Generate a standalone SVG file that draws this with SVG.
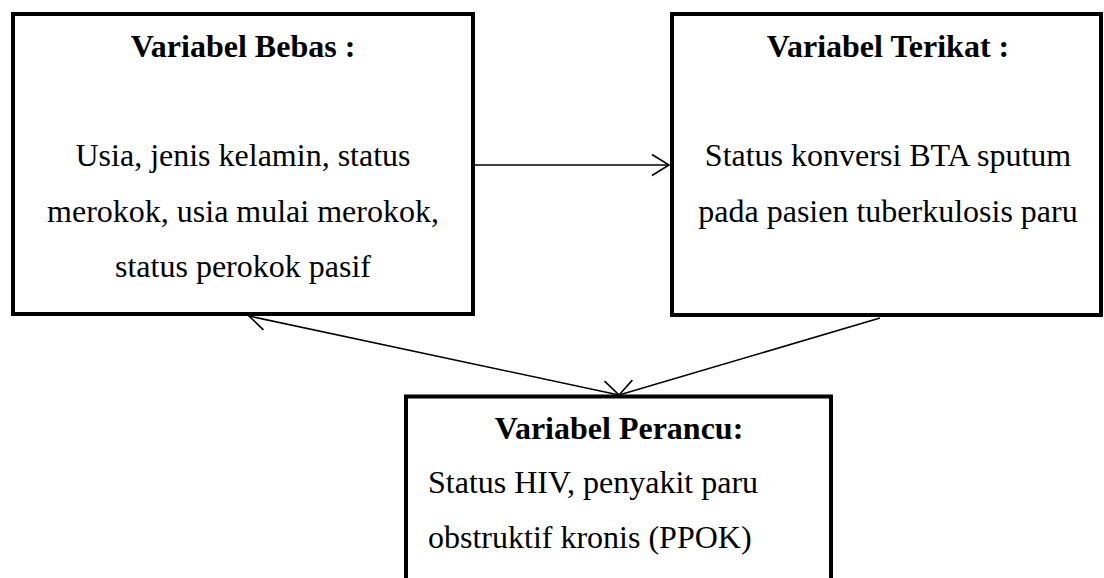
<svg xmlns="http://www.w3.org/2000/svg" width="1104" height="578" viewBox="0 0 1104 578">
<style>
.box{fill:#fff;stroke:#000;stroke-width:4;stroke-linejoin:miter}
.t{font-family:"Liberation Serif","Times New Roman",serif;font-size:32px;fill:#000}
.b{font-weight:bold}
.c{text-anchor:middle}
.con{stroke:#000;stroke-width:1.6;fill:none}
</style>
<defs>
<marker id="ah" viewBox="-20 -13 23 26" refX="0" refY="0" markerWidth="23" markerHeight="26" markerUnits="userSpaceOnUse" orient="auto-start-reverse">
<path d="M-17,-10.5 L0,0 L-17,10.5" fill="none" stroke="#000" stroke-width="1.6"/>
</marker>
</defs>
<rect width="1104" height="578" fill="#fff"/>
<g id="connectors">
<line class="con" x1="475" y1="165" x2="669" y2="165" marker-end="url(#ah)"/>
<line class="con" x1="249" y1="316" x2="619" y2="395" marker-start="url(#ah)" marker-end="url(#ah)"/>
<line class="con" x1="880" y1="318" x2="619" y2="395" marker-end="url(#ah)"/>
</g>
<g id="bebas">
<rect class="box" x="13" y="14" width="460" height="300"/>
<text class="t b c" x="243" y="57">Variabel Bebas :</text>
<text class="t c" x="243" y="166">Usia, jenis kelamin, status</text>
<text class="t c" x="243" y="222">merokok, usia mulai merokok,</text>
<text class="t c" x="243" y="277">status perokok pasif</text>
</g>
<g id="terikat">
<rect class="box" x="672" y="14" width="429" height="301"/>
<text class="t b c" x="888" y="57">Variabel Terikat :</text>
<text class="t c" x="888" y="166">Status konversi BTA sputum</text>
<text class="t c" x="888" y="222">pada pasien tuberkulosis paru</text>
</g>
<g id="perancu">
<rect class="box" x="406" y="396.5" width="425" height="300"/>
<text class="t b c" x="619" y="439">Variabel Perancu:</text>
<text class="t" x="428" y="493">Status HIV, penyakit paru</text>
<text class="t" x="428" y="548">obstruktif kronis (PPOK)</text>
</g>
</svg>
